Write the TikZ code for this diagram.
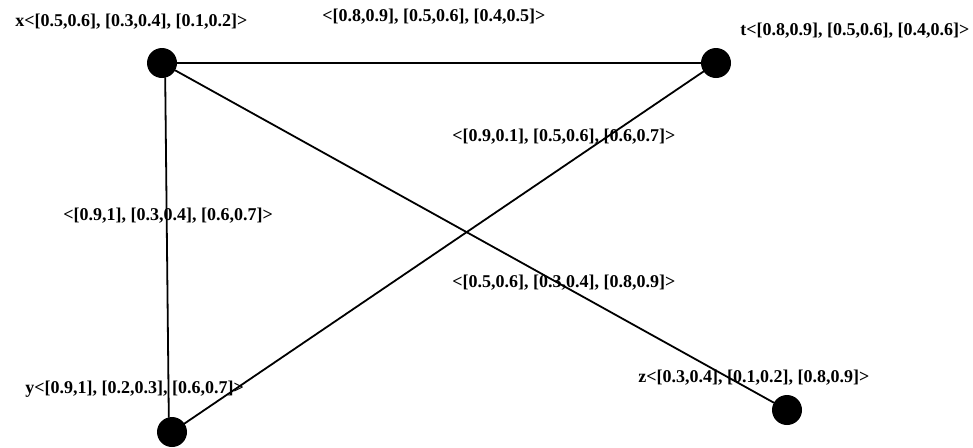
\documentclass[tikz,border=0pt]{standalone}
\usepackage{fontspec}
\setmainfont{Liberation Serif}
\usepackage{tikz}
\usetikzlibrary{positioning}

\begin{document}
\begin{tikzpicture}[x=0.5pt,y=-0.5pt,line cap=round,line join=round,
  font=\bfseries\fontsize{9}{10}\selectfont,
  vtx/.style={circle,inner sep=0pt,minimum size=15pt,fill=black},
  lbl/.style={anchor=west,inner sep=0pt,text=black},
  edge/.style={black,line width=0.9pt}]
\path[use as bounding box] (0,0) rectangle (973,447);
\fill[white] (0,0) rectangle (973,447);

% vertices
\node[vtx] (x) at (162,63) {};
\node[vtx] (t) at (716,63) {};
\node[vtx] (y) at (172,432) {};
\node[vtx] (z) at (787,410) {};

% edges
\draw[edge] (x) -- (t);
\draw[edge] (x.-78) -- (y.102);
\draw[edge] (x) -- (z);
\draw[edge] (y) -- (t);

% vertex labels
\node[lbl] (xl) at (15,22) {x<[0.5,0.6], [0.3,0.4], [0.1,0.2]>};
\node[lbl] (tl) at (740,31) {t<[0.8,0.9], [0.5,0.6], [0.4,0.6]>};
\node[lbl] (yl) at (25,389) {y<[0.9,1], [0.2,0.3], [0.6,0.7]>};
\node[lbl] (zl) at (638,378) {z<[0.3,0.4], [0.1,0.2], [0.8,0.9]>};

% edge labels
\node[lbl] (xtl) at (322,17) {<[0.8,0.9], [0.5,0.6], [0.4,0.5]>};
\node[lbl] (ytl) at (452,137) {<[0.9,0.1], [0.5,0.6], [0.6,0.7]>};
\node[lbl] (xyl) at (63,216) {<[0.9,1], [0.3,0.4], [0.6,0.7]>};
\node[lbl] (xzl) at (452,283) {<[0.5,0.6], [0.3,0.4], [0.8,0.9]>};
\end{tikzpicture}
\end{document}
